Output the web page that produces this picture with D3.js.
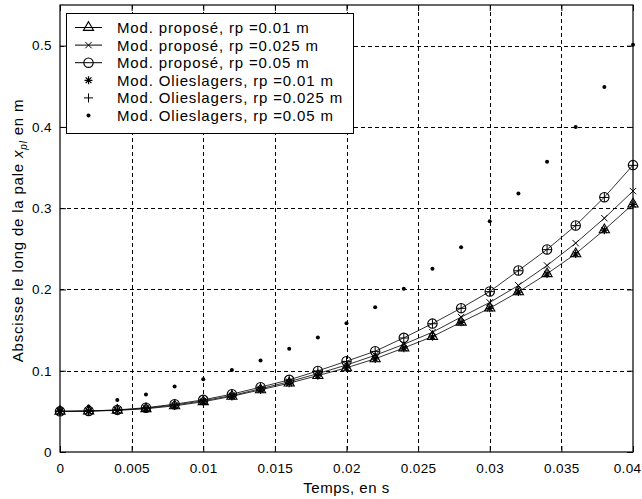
<!DOCTYPE html>
<html><head><meta charset="utf-8">
<script src="https://cdn.jsdelivr.net/npm/d3@7"></script>
<style>
body{margin:0;background:#fff}
svg text{font-family:"Liberation Sans",Arial,Helvetica,sans-serif;fill:#000}
</style>
</head><body>
<svg id="chart" width="642" height="499"></svg>
<script>
// ---- data ----
const times = [0, 0.002, 0.004, 0.006, 0.008, 0.010, 0.012, 0.014, 0.016, 0.018, 0.020,
               0.022, 0.024, 0.026, 0.028, 0.030, 0.032, 0.034, 0.036, 0.038, 0.040];
const propRp001  = [0.050, 0.0503, 0.0512, 0.0532, 0.0568, 0.0618, 0.0685, 0.0765, 0.0847, 0.0940, 0.1036,
                    0.1147, 0.1280, 0.1420, 0.1597, 0.1770, 0.1970, 0.2193, 0.2439, 0.2734, 0.3050];
const propRp0025 = [0.050, 0.0504, 0.0515, 0.0538, 0.0578, 0.0630, 0.0695, 0.0778, 0.0865, 0.0965, 0.1070,
                    0.1190, 0.1325, 0.1474, 0.1660, 0.1840, 0.2050, 0.2295, 0.2570, 0.2877, 0.3210];
const propRp005  = [0.050, 0.0505, 0.0518, 0.0545, 0.0588, 0.0642, 0.0712, 0.0798, 0.0888, 0.0998, 0.1117,
                    0.1240, 0.1405, 0.1580, 0.1770, 0.1975, 0.2233, 0.2492, 0.2787, 0.3135, 0.3530];
const oliRp001   = [0.050, 0.0503, 0.0511, 0.0531, 0.0566, 0.0616, 0.0683, 0.0763, 0.0845, 0.0938, 0.1034,
                    0.1145, 0.1278, 0.1418, 0.1595, 0.1768, 0.1968, 0.2190, 0.2436, 0.2730, 0.3045];
const oliRp0025  = [0.050, 0.0505, 0.0518, 0.0545, 0.0587, 0.0641, 0.0711, 0.0797, 0.0887, 0.0997, 0.1115,
                    0.1238, 0.1403, 0.1578, 0.1768, 0.1973, 0.2230, 0.2490, 0.2785, 0.3132, 0.3527];
const oliRp005   = [0.050, 0.0560, 0.0640, 0.0707, 0.0806, 0.0896, 0.1010, 0.1126, 0.1270, 0.1410, 0.1585,
                    0.1780, 0.2010, 0.2254, 0.2520, 0.2840, 0.3180, 0.3570, 0.4000, 0.4490, 0.5010];

const xTickValues = [0, 0.005, 0.01, 0.015, 0.02, 0.025, 0.03, 0.035, 0.04];
const xTickLabels = ["0", "0.005", "0.01", "0.015", "0.02", "0.025", "0.03", "0.035", "0.04"];
const yTickValues = [0, 0.1, 0.2, 0.3, 0.4, 0.5];
const yTickLabels = ["0", "0.1", "0.2", "0.3", "0.4", "0.5"];

const legendLabels = [
  "Mod. proposé, rp =0.01 m",
  "Mod. proposé, rp =0.025 m",
  "Mod. proposé, rp =0.05 m",
  "Mod. Olieslagers, rp =0.01 m",
  "Mod. Olieslagers, rp =0.025 m",
  "Mod. Olieslagers, rp =0.05 m"
];
const xLabel = "Temps, en s";

// ---- layout ----
const L = 60, R = 633, T = 5, B = 452;
const svg = d3.select("#chart");
const x = d3.scaleLinear().domain([0, 0.04]).range([L, R]);
const y = d3.scaleLinear().domain([0, 0.55]).range([B, T]);

// marker shapes
const markers = {
  tri:    g => g.append("path").attr("d", "M0,-5.8L5.1,2.9L-5.1,2.9Z").attr("fill", "none").attr("stroke", "#000").attr("stroke-width", 1.1),
  cross:  g => g.append("path").attr("d", "M-3.2,-3.2L3.2,3.2M-3.2,3.2L3.2,-3.2").attr("stroke", "#000").attr("stroke-width", 1),
  circle: g => g.append("circle").attr("r", 4.7).attr("fill", "none").attr("stroke", "#000").attr("stroke-width", 1.1),
  star:   g => g.append("path").attr("d", "M-4,0L4,0M0,-4L0,4M-2.9,-2.9L2.9,2.9M-2.9,2.9L2.9,-2.9").attr("stroke", "#000").attr("stroke-width", 1.2),
  plus:   g => g.append("path").attr("d", "M-4.5,0L4.5,0M0,-4.5L0,4.5").attr("stroke", "#000").attr("stroke-width", 1),
  dot:    g => g.append("circle").attr("r", 2).attr("fill", "#000")
};

const series = [
  {values: propRp001,  marker: "tri",    line: true},
  {values: propRp0025, marker: "cross",  line: true},
  {values: propRp005,  marker: "circle", line: true},
  {values: oliRp001,   marker: "star",   line: false},
  {values: oliRp0025,  marker: "plus",   line: false},
  {values: oliRp005,   marker: "dot",    line: false}
];

// ---- grid ----
const grid = svg.append("g").attr("stroke", "#000").attr("stroke-width", 1).attr("stroke-dasharray", "4,3");
grid.selectAll("line.gx").data(xTickValues.slice(1, -1)).join("line")
  .attr("x1", d => Math.round(x(d)) + 0.5).attr("x2", d => Math.round(x(d)) + 0.5)
  .attr("y1", T).attr("y2", B);
grid.selectAll("line.gy").data(yTickValues.slice(1)).join("line")
  .attr("y1", d => Math.round(y(d)) + 0.5).attr("y2", d => Math.round(y(d)) + 0.5)
  .attr("x1", L).attr("x2", R);

// ---- lines and markers ----
const lineGen = d3.line().x((d, i) => x(times[i])).y(d => y(d));
series.forEach(s => {
  if (s.line) {
    svg.append("path").datum(s.values).attr("d", lineGen)
      .attr("fill", "none").attr("stroke", "#000").attr("stroke-width", 0.8);
  }
});
series.forEach(s => {
  s.values.forEach((v, i) => {
    const g = svg.append("g").attr("transform", `translate(${x(times[i])},${y(v)})`);
    markers[s.marker](g);
  });
});

// ---- axes ----
const tickFont = "13.5px";
const axBottom = svg.append("g").attr("transform", `translate(0,${B})`)
  .call(d3.axisBottom(x).tickValues(xTickValues).tickFormat((d, i) => xTickLabels[i])
        .tickSizeInner(-6).tickSizeOuter(0).tickPadding(11));
const axTop = svg.append("g").attr("transform", `translate(0,${T})`)
  .call(d3.axisTop(x).tickValues(xTickValues).tickFormat("").tickSizeInner(-6).tickSizeOuter(0));
const axLeft = svg.append("g").attr("transform", `translate(${L},0)`)
  .call(d3.axisLeft(y).tickValues(yTickValues).tickFormat((d, i) => yTickLabels[i])
        .tickSizeInner(-6).tickSizeOuter(0).tickPadding(8));
const axRight = svg.append("g").attr("transform", `translate(${R},0)`)
  .call(d3.axisRight(y).tickValues(yTickValues).tickFormat("").tickSizeInner(-6).tickSizeOuter(0));
[axBottom, axTop, axLeft, axRight].forEach(a => {
  a.select(".domain").remove();
  a.selectAll("line").attr("stroke", "#000");
  a.selectAll("text").attr("font-size", tickFont).attr("font-family", null).attr("letter-spacing", "0.4px");
});
// keep the last x label inside the picture, as in the reference
axBottom.selectAll(".tick text").filter((d, i) => i === xTickValues.length - 1)
  .attr("text-anchor", "end").attr("x", 8);
svg.append("rect").attr("x", L).attr("y", T).attr("width", R - L).attr("height", B - T)
  .attr("fill", "none").attr("stroke", "#000").attr("stroke-width", 1.2);

// axis titles
svg.append("text").attr("x", (L + R) / 2).attr("y", 493).attr("text-anchor", "middle")
  .attr("font-size", "15px").attr("letter-spacing", "0.5px").text(xLabel);
const yl = svg.append("text").attr("transform", `translate(23,${(T + B) / 2 + 2}) rotate(-90)`)
  .attr("text-anchor", "middle").attr("font-size", "15px").attr("letter-spacing", "0.8px");
yl.append("tspan").text("Abscisse le long de la pale ");
yl.append("tspan").attr("font-style", "italic").text("x");
yl.append("tspan").attr("font-size", "10px").attr("font-style", "italic").attr("dy", 4).text("pl");
yl.append("tspan").attr("dy", -4).text("  en m");

// ---- legend ----
const lg = svg.append("g");
lg.append("rect").attr("x", 66.5).attr("y", 13.5).attr("width", 287).attr("height", 120)
  .attr("fill", "#fff").attr("stroke", "#000").attr("stroke-width", 1);
series.forEach((s, i) => {
  const cy = 27.5 + i * 17.6;
  if (s.line) {
    lg.append("line").attr("x1", 75).attr("x2", 102).attr("y1", cy).attr("y2", cy)
      .attr("stroke", "#000").attr("stroke-width", 1);
  }
  markers[s.marker](lg.append("g").attr("transform", `translate(88.5,${cy})`));
  lg.append("text").attr("x", 117).attr("y", cy).attr("dy", "0.36em")
    .attr("font-size", "15px").attr("letter-spacing", "0.85px").text(legendLabels[i]);
});
</script>
</body></html>
